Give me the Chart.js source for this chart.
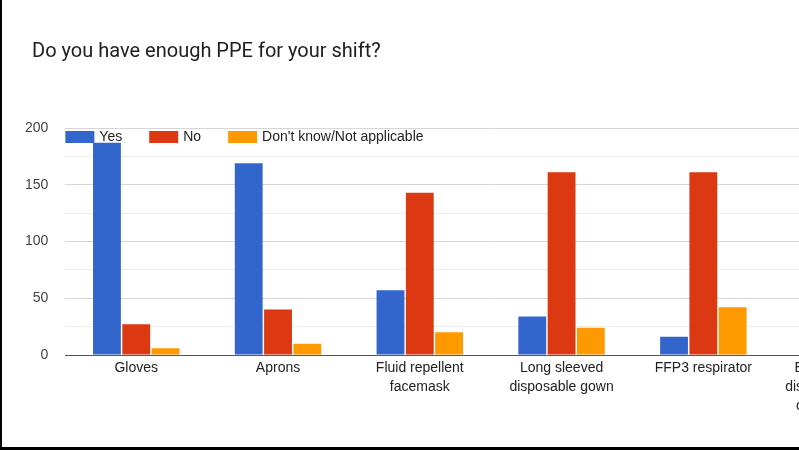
<!DOCTYPE html>
<html>
<head>
<meta charset="utf-8">
<script src="https://cdn.jsdelivr.net/npm/chart.js@4.4.1/dist/chart.umd.min.js"></script>
<style>
  html, body { margin: 0; padding: 0; background: #000; overflow: hidden; }
  #marco { position: absolute; left: 2px; top: 0; width: 960px; height: 447px; background: #fff; }
  #titulo { position: absolute; left: 30px; top: 38px; margin: 0; font: normal 20px Roboto, sans-serif; color: #202124; white-space: nowrap; }
  canvas { position: absolute; left: 0; top: 0; }
</style>
</head>
<body>
<div id="marco">
  <canvas id="grafico" width="960" height="447"></canvas>
  <h1 id="titulo">Do you have enough PPE for your shift?</h1>
</div>
<script>
// Datos
const categorias = [
    ['Gloves'],
    ['Aprons'],
    ['Fluid repellent', 'facemask'],
    ['Long sleeved', 'disposable gown'],
    ['FFP3 respirator'],
    ['Eye protection –', 'disposable goggles', 'or full face visor']
];
const respuestasSi = [187, 169, 57, 34, 16, 60];
const respuestasNo = [27, 40, 143, 161, 161, 120];
const respuestasNoSabe = [6, 10, 20, 24, 42, 30];
const nombresSeries = ['Yes', 'No', "Don't know/Not applicable"];
const coloresSeries = ['#3366cc', '#dc3912', '#ff9900'];

const fuente = '"Liberation Sans", Arial, sans-serif';

// Leyenda dibujada dentro del área del gráfico, en una sola fila (como Google Charts)
const leyendaInterna = {
    id: 'leyendaInterna',
    afterDatasetsDraw(chart) {
        const c = chart.ctx;
        const area = chart.chartArea;
        let x = area.left;
        const y = area.top + 3;
        c.save();
        c.font = '14px ' + fuente;
        c.textBaseline = 'middle';
        c.textAlign = 'left';
        chart.data.datasets.forEach(ds => {
            c.fillStyle = ds.backgroundColor;
            c.fillRect(x, y, 29, 12);
            x += 34;
            c.fillStyle = '#222';
            c.fillText(ds.label, x, y + 6);
            x += c.measureText(ds.label).width + 27;
        });
        c.restore();
    }
};

const ctx = document.getElementById('grafico').getContext('2d');
const grafico = new Chart(ctx, {
    type: 'bar',
    data: {
        labels: categorias,
        datasets: nombresSeries.map((nombre, i) => ({
            label: nombre,
            data: [respuestasSi, respuestasNo, respuestasNoSabe][i],
            backgroundColor: coloresSeries[i]
        }))
    },
    plugins: [leyendaInterna],
    options: {
        responsive: false,
        animation: false,
        layout: { padding: { left: 6, right: 46, top: 128, bottom: 0 } },
        datasets: {
            bar: { categoryPercentage: 0.62, barPercentage: 0.95 }
        },
        plugins: {
            legend: { display: false },
            tooltip: { enabled: false }
        },
        scales: {
            x: {
                grid: { display: false, drawTicks: false },
                border: { display: true, color: '#555', width: 1 },
                ticks: {
                    color: '#222',
                    padding: 4,
                    maxRotation: 0,
                    autoSkip: false,
                    font: { family: fuente, size: 14, lineHeight: 1.35 }
                },
                afterFit: (escala) => { escala.height = 92; }
            },
            y: {
                min: 0,
                max: 200,
                grid: {
                    drawTicks: false,
                    color: (c) => c.tick.value === 0 ? '#555' : (c.tick.value % 50 === 0 ? '#d6d6d6' : '#ececec')
                },
                border: { display: false },
                ticks: {
                    stepSize: 25,
                    padding: 17,
                    color: '#444',
                    font: { family: fuente, size: 14 },
                    callback: (v) => v % 50 === 0 ? v : ''
                }
            }
        }
    }
});
</script>
</body>
</html>
